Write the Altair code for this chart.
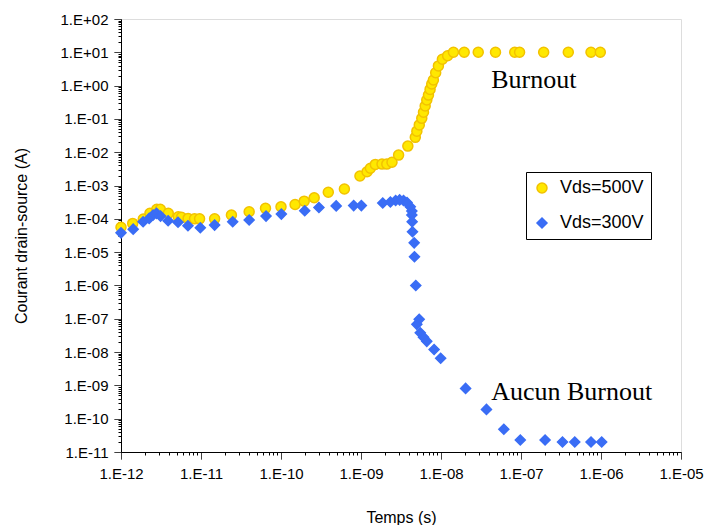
import altair as alt
import pandas as pd

# ---- data ----
t_500 = [1.0e-12, 1.4e-12, 1.9e-12, 2.3e-12, 2.8e-12, 3.1e-12, 3.9e-12, 5.2e-12, 5.7e-12, 6.9e-12,
         8.3e-12, 9.6e-12, 1.48e-11, 2.4e-11, 4.0e-11, 6.4e-11, 1.0e-10, 1.5e-10, 1.95e-10, 2.6e-10,
         3.9e-10, 6.2e-10, 9.7e-10, 1.19e-9, 1.31e-9, 1.51e-9, 1.83e-9, 2.1e-9, 2.44e-9, 2.95e-9,
         3.85e-9, 4.77e-9, 4.99e-9, 5.35e-9, 5.75e-9, 6.04e-9, 6.34e-9, 6.64e-9, 6.97e-9, 7.3e-9,
         7.66e-9, 8.03e-9, 8.58e-9, 9.28e-9, 1.04e-8, 1.21e-8, 1.43e-8, 1.95e-8, 2.92e-8, 4.8e-8,
         8.35e-8, 9.6e-8, 1.92e-7, 3.9e-7, 7.5e-7, 9.8e-7]
i_500 = [5.6e-5, 7.3e-5, 9.9e-5, 1.46e-4, 1.93e-4, 1.93e-4, 1.46e-4, 1.16e-4, 1.11e-4, 1.03e-4,
         1.0e-4, 1.0e-4, 1.0e-4, 1.3e-4, 1.63e-4, 2.07e-4, 2.3e-4, 2.7e-4, 3.4e-4, 4.3e-4,
         6.3e-4, 7.9e-4, 1.93e-3, 2.6e-3, 3.3e-3, 4.3e-3, 4.4e-3, 4.4e-3, 5.0e-3, 8.2e-3,
         0.0153, 0.028, 0.043, 0.066, 0.104, 0.158, 0.244, 0.37, 0.52, 0.77,
         1.12, 1.47, 2.44, 3.9, 6.2, 7.9, 10, 10, 10, 10,
         10, 10, 10, 10, 10, 10]

t_300 = [1.0e-12, 1.42e-12, 1.89e-12, 2.25e-12, 2.52e-12, 2.78e-12, 3.12e-12, 3.88e-12, 5.16e-12, 6.87e-12,
         9.8e-12, 1.48e-11, 2.49e-11, 4.0e-11, 6.5e-11, 1.01e-10, 1.98e-10, 2.98e-10, 4.9e-10, 8.1e-10,
         1.01e-9, 1.87e-9, 2.33e-9, 2.71e-9, 3.04e-9, 3.4e-9, 3.76e-9, 4.13e-9, 4.32e-9, 4.32e-9,
         4.36e-9, 4.4e-9, 4.62e-9, 4.66e-9, 4.84e-9, 5.34e-9, 4.99e-9, 5.5e-9, 6.04e-9, 6.64e-9,
         8.2e-9, 9.9e-9, 2.03e-8, 3.7e-8, 6.1e-8, 9.8e-8, 2.0e-7, 3.3e-7, 4.7e-7, 7.5e-7,
         1.02e-6]
i_300 = [3.8e-5, 4.9e-5, 8.2e-5, 1.03e-4, 1.3e-4, 1.46e-4, 1.21e-4, 8.8e-5, 7.9e-5, 6.2e-5,
         5.4e-5, 6.5e-5, 8.2e-5, 9.2e-5, 1.21e-4, 1.39e-4, 1.75e-4, 2.2e-4, 2.45e-4, 2.5e-4,
         2.5e-4, 3.0e-4, 3.2e-4, 3.55e-4, 3.7e-4, 3.55e-4, 3.1e-4, 2.3e-4, 1.71e-4, 1.3e-4,
         8.2e-5, 4.1e-5, 1.9e-5, 7.3e-6, 1.0e-6, 9.6e-8, 6.8e-8, 3.8e-8, 2.8e-8, 2.1e-8,
         1.2e-8, 6.5e-9, 8.1e-10, 1.9e-10, 4.8e-11, 2.3e-11, 2.3e-11, 2.0e-11, 2.0e-11, 2.0e-11,
         2.0e-11]

series_names = ["Vds=500V", "Vds=300V"]

note_text = ["Burnout", "Aucun Burnout"]
note_t = [4.24e-8, 4.24e-8]
note_i = [0.85, 3.6e-10]

x_major = [10.0 ** e for e in range(-12, -4)]
y_major = [10.0 ** e for e in range(-11, 3)]
x_ticks = x_major + [m * 10.0 ** e for e in range(-12, -5) for m in range(2, 10)]
y_ticks = y_major + [m * 10.0 ** e for e in range(-11, 2) for m in range(2, 10)]

# ---- tables ----
df = pd.concat([
    pd.DataFrame({"t": t_500, "i": i_500, "serie": series_names[0]}),
    pd.DataFrame({"t": t_300, "i": i_300, "serie": series_names[1]}),
], ignore_index=True)
notes = pd.DataFrame({"t": note_t, "i": note_i, "txt": note_text})

EXP = "round(log(datum.value)/LN10)"
IS_MAJOR = f"abs(log(datum.value)/LN10 - {EXP}) < 0.01"
LABEL = (f"{IS_MAJOR} ? ('1.E' + ({EXP} < 0 ? '-' : '+') + "
         f"(abs({EXP}) < 10 ? '0' : '') + abs({EXP})) : ''")
DASH = {"condition": {"test": IS_MAJOR, "value": [1, 0]}, "value": [3, 40]}

FONT = "Liberation Sans"

x_scale = alt.Scale(type="log", domain=[1e-12, 1e-5], nice=False)
y_scale = alt.Scale(type="log", domain=[1e-11, 100], nice=False)

x_axis = alt.Axis(values=x_ticks, labelExpr=LABEL, labelOverlap=False, grid=False,
                  tickSize=7, tickDash=DASH, labelPadding=7, labelFontSize=15,
                  labelFont=FONT, labelColor="black", tickColor="black",
                  domainColor="black", title="Temps (s)", titleFont=FONT,
                  titleFontSize=16, titleFontWeight="normal", titleColor="black",
                  titlePadding=28, labelFlush=False)
y_axis = alt.Axis(values=y_ticks, labelExpr=LABEL, labelOverlap=False, grid=False,
                  tickSize=7, tickDash=DASH, labelPadding=6, labelFontSize=15,
                  labelFont=FONT, labelColor="black", tickColor="black",
                  domainColor="black", title="Courant drain-source (A)", titleFont=FONT,
                  titleFontSize=16, titleFontWeight="normal", titleColor="black",
                  titlePadding=31, labelFlush=False)

points = alt.Chart(df).mark_point(filled=True, opacity=1, strokeWidth=1.5).encode(
    x=alt.X("t:Q", scale=x_scale, axis=x_axis),
    y=alt.Y("i:Q", scale=y_scale, axis=y_axis),
    shape=alt.Shape("serie:N", scale=alt.Scale(domain=series_names, range=["circle", "diamond"]),
                    legend=alt.Legend(title=None, orient="none", legendX=405, legendY=153,
                                      strokeColor="black", fillColor="white", padding=7,
                                      labelFont=FONT, labelFontSize=18, labelColor="black",
                                      symbolSize=100, rowPadding=17, labelOffset=9)),
    fill=alt.Fill("serie:N", scale=alt.Scale(domain=series_names, range=["#FFE800", "#3A6DF5"])),
    stroke=alt.Stroke("serie:N", scale=alt.Scale(domain=series_names, range=["#F2C200", "#3A6DF5"])),
    size=alt.value(100),
    order=alt.Order("serie:N", sort="descending"),
)

texts = alt.Chart(notes).mark_text(align="left", baseline="alphabetic", font="Liberation Serif",
                                   fontSize=26, color="black").encode(
    x=alt.X("t:Q", scale=x_scale),
    y=alt.Y("i:Q", scale=y_scale),
    text="txt:N",
)

chart = alt.layer(points, texts).properties(
    width=560, height=433,
    padding={"left": 5, "top": 4, "right": 0, "bottom": 0},
).configure_view(stroke="#8c8c8c", strokeWidth=2).configure(background="white")

chart.save("out.html", embed_options={"renderer": "svg", "actions": False})
